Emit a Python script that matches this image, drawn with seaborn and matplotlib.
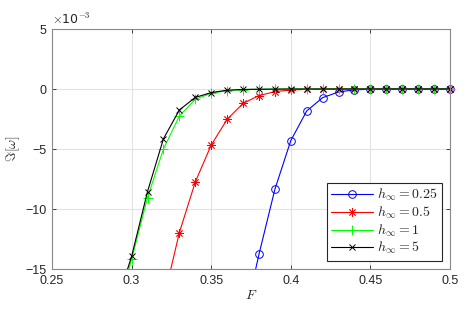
import numpy as np
import pandas as pd
import matplotlib
matplotlib.use("Agg")
import matplotlib.pyplot as plt
import seaborn as sns
from matplotlib.patches import Rectangle

# Data (values in units of 1e-3)
F_all = [0.29, 0.30, 0.31, 0.32, 0.33, 0.34, 0.35, 0.36, 0.37, 0.38, 0.39, 0.40,
         0.41, 0.42, 0.43, 0.44, 0.45, 0.46, 0.47, 0.48, 0.49, 0.50]
F_red = F_all[3:]
F_blue = F_all[8:]

im_h025 = [-19.7, -13.78, -8.36, -4.3, -1.83, -0.72, -0.25, -0.07,
           -0.02, -0.01, 0.0, 0.0, 0.0, 0.0]
im_h05 = [-17.6, -11.97, -7.75, -4.67, -2.53, -1.2, -0.55, -0.22, -0.08,
          -0.03, -0.01, 0.0, 0.0, 0.0, 0.0, 0.0, 0.0, 0.0, 0.0]
im_h1 = [-19.0, -14.2, -9.05, -5.0, -2.25, -0.86, -0.36, -0.13, -0.05, -0.02,
         -0.01, 0.0, 0.0, 0.0, 0.0, 0.0, 0.0, 0.0, 0.0, 0.0, 0.0, 0.0]
im_h5 = [-18.1, -13.95, -8.55, -4.15, -1.75, -0.7, -0.3, -0.1, -0.04, -0.02,
         -0.01, 0.0, 0.0, 0.0, 0.0, 0.0, 0.0, 0.0, 0.0, 0.0, 0.0, 0.0]

labels = [r"$h_\infty = 0.25$", r"$h_\infty = 0.5$", r"$h_\infty = 1$", r"$h_\infty = 5$"]
xticks = [0.25, 0.3, 0.35, 0.4, 0.45, 0.5]
xtick_labels = ["0.25", "0.3", "0.35", "0.4", "0.45", "0.5"]
yticks = [-15, -10, -5, 0, 5]

sns.set_theme(style="white")
plt.rcParams["font.family"] = ["Liberation Sans", "DejaVu Sans"]
plt.rcParams["mathtext.fontset"] = "cm"

fig = plt.figure(figsize=(4.72, 3.16), dpi=100)
ax = fig.add_axes([52/472, 1 - 269/316, (450 - 52)/472, (269 - 29)/316])

series = [
    (F_blue, im_h025, "#0000ff", "o", labels[0], 5.5, 0.7),
    (F_red, im_h05, "#ff0000", (8, 2, 0), labels[1], 6, 0.6),
    (F_all, im_h1, "#00ff00", "+", labels[2], 6.5, 0.7),
    (F_all, im_h5, "#000000", "x", labels[3], 4.5, 0.7),
]

clip_rect = Rectangle((-0.05, 0.0), 1.1, 1.1, transform=ax.transAxes)

for xs, ys, col, mk, lab, ms, mew in series:
    df = pd.DataFrame({"F": xs, "im": ys})
    sns.lineplot(data=df, x="F", y="im", ax=ax, color=col, marker=mk, label=lab,
                 markersize=ms, linewidth=0.8, markerfacecolor="none",
                 markeredgecolor=col, markeredgewidth=mew)

for ln in ax.get_lines():
    ln.set_clip_path(clip_rect)

ax.set_xlim(0.25, 0.5)
ax.set_ylim(-15, 5)
ax.set_xticks(xticks)
ax.set_xticklabels(xtick_labels)
ax.set_yticks(yticks)
ax.grid(True, color="#e3e3e3", linewidth=0.8)
ax.set_axisbelow(True)
for s in ax.spines.values():
    s.set_color("#8a8a8a")
    s.set_linewidth(0.8)
ax.tick_params(direction="in", length=3, width=0.6, color="#262626",
               labelsize=9, labelcolor="#262626", top=True, right=True,
               bottom=True, left=True, pad=4)
ax.set_xlabel(r"$F$", fontsize=10, labelpad=1)
ax.set_ylabel(r"$\Im[\omega]$", fontsize=10, labelpad=2)

ax.text(0.0, 1.01, r"$\times$10$^{-3}$", transform=ax.transAxes,
        fontsize=9, color="#262626", ha="left", va="bottom",
        family=["DejaVu Sans"])

leg = ax.legend(loc="lower right", fontsize=10, frameon=True, fancybox=False,
                framealpha=1, edgecolor="#262626", borderpad=0.3,
                labelspacing=0.1, handlelength=3.0, handletextpad=0.3,
                borderaxespad=0.6)
leg.get_frame().set_linewidth(0.8)

fig.savefig("out.png", dpi=100)
